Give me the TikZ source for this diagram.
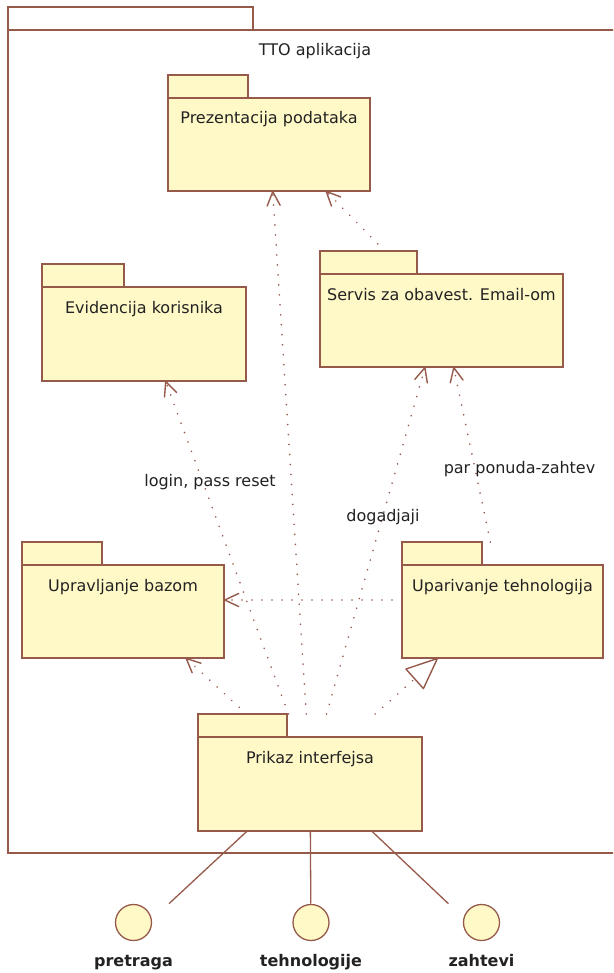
\documentclass[tikz,border=0pt]{standalone}
\usepackage{fontspec}
\setmainfont{DejaVu Sans}
\usepackage{tikz}
\usetikzlibrary{arrows.meta,fit}

\definecolor{pkgfill}{RGB}{255,249,200}
\definecolor{pkgline}{RGB}{150,90,75}
\definecolor{txt}{RGB}{34,34,34}

% package: [fill], name, left, top, width, height, tab width, text
\newcommand{\umlpkg}[8][pkgfill]{%
  \node[pkg, minimum width=#5pt, minimum height=#6pt] (#2) at (#3,#4) {};
  \draw[pkgshape, fill=#1] (#2.north west) rectangle ++(#7,23);
  \draw[pkgshape, fill=#1] ([yshift=-23pt]#2.north west) rectangle (#2.south east);
  \node[lbl, anchor=base] (#2-txt) at ([yshift=-49pt]#2.north) {#8};
}

\begin{document}
\begin{tikzpicture}[x=1pt,y=-1pt,
    pkg/.style={inner sep=0pt, outer sep=0pt, anchor=north west},
    pkgshape/.style={draw=pkgline, line width=1.6pt},
    lbl/.style={text=txt, inner sep=0pt, font=\fontsize{16}{19}\selectfont},
    ilbl/.style={lbl, font=\fontsize{16}{19}\selectfont\bfseries},
    dep/.style={draw=pkgline, line width=1.8pt, line cap=round,
      dash pattern=on 0.01pt off 9.99pt,
      -{Straight Barb[length=14pt, width=13pt, line width=1.4pt, round]}},
    gen/.style={dep, -{Triangle[open, length=33pt, width=28pt, line width=1.4pt, round]}},
    iface/.style={circle, draw=pkgline, fill=pkgfill, line width=1.3pt,
      minimum size=36pt, inner sep=0pt},
    iline/.style={draw=pkgline, line width=1.3pt}]
  \useasboundingbox (0,0) rectangle (613,973);
  \clip (0,0) rectangle (613,973);

  \umlpkg[white]{tto}{8}{7}{614}{846}{245}{TTO aplikacija}
  \umlpkg{prez}{168}{75}{202}{116}{80}{Prezentacija podataka}
  \umlpkg{evid}{42}{264}{204}{117}{82}{Evidencija korisnika}
  \umlpkg{servis}{320}{251}{243}{116}{97}{Servis za obavest. Email-om}
  \umlpkg{upravlj}{22}{542}{202}{116}{80}{Upravljanje bazom}
  \umlpkg{upariv}{402}{542}{201}{116}{80}{Uparivanje tehnologija}
  \umlpkg{prikaz}{198}{714}{224}{117}{89}{Prikaz interfejsa}

  % interfaces
  \node[iface] (pretragaC) at (133.5,922.5) {};
  \node[ilbl, anchor=base] (pretragaL) at (133.5,966) {pretraga};
  \node[fit=(pretragaC)(pretragaL), inner sep=0pt] (pretraga) {};
  \node[iface] (tehnolC) at (311,922.5) {};
  \node[ilbl, anchor=base] (tehnolL) at (311,966) {tehnologije};
  \node[fit=(tehnolC)(tehnolL), inner sep=0pt] (tehnol) {};
  \node[iface] (zahteviC) at (481.5,922.5) {};
  \node[ilbl, anchor=base] (zahteviL) at (481.5,966) {zahtevi};
  \node[fit=(zahteviC)(zahteviL), inner sep=0pt] (zahtevi) {};

  \draw[iline] (prikaz) -- (pretraga);
  \draw[iline] (prikaz) -- (tehnol);
  \draw[iline] (prikaz) -- (zahtevi);

  % dependencies
  \draw[dep] (prikaz) -- (upravlj);
  \draw[dep] (prikaz) -- (evid);
  \draw[dep] (prikaz) -- (prez);
  \draw[dep] (prikaz) -- (servis);
  \draw[gen] (prikaz) -- (upariv);
  \draw[dep] (servis) -- (prez);
  \draw[dep] (upariv) -- (servis);
  \draw[dep] (upariv) -- (upravlj);

  \node[lbl, anchor=base] (loginlbl) at (210,486) {login, pass reset};
  \node[lbl, anchor=base] (doglbl) at (383,521) {dogadjaji};
  \node[lbl, anchor=base] (parlbl) at (519.5,473) {par ponuda-zahtev};
\end{tikzpicture}
\end{document}
